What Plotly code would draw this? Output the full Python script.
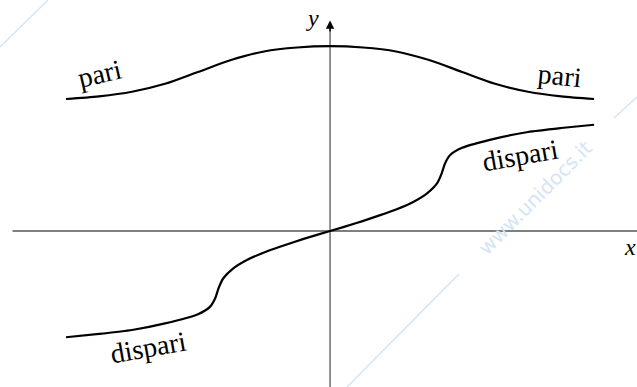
import plotly.graph_objects as go

### even function (pari)
x_pari = [-4.0, -3.5, -3.0, -2.5, -2.0, -1.5, -1.0, -0.5, 0.0,
          0.5, 1.0, 1.5, 2.0, 2.5, 3.0, 3.5, 4.0]
y_pari = [2.00, 2.04, 2.11, 2.23, 2.41, 2.59, 2.72, 2.78, 2.80,
          2.78, 2.72, 2.59, 2.41, 2.23, 2.11, 2.04, 2.00]

### odd function (dispari)
x_dispari = [-4.0, -3.5, -3.0, -2.5, -2.0, -1.82, -1.74, -1.69, -1.62, -1.47,
             -1.26, -1.01, -0.76, -0.40, 0.0,
             0.40, 0.76, 1.01, 1.26, 1.47, 1.62, 1.69, 1.74, 1.82, 2.0,
             2.5, 3.0, 3.5, 4.0]
y_dispari = [-1.61, -1.56, -1.50, -1.40, -1.26, -1.15, -1.02, -0.87, -0.72, -0.57,
             -0.44, -0.33, -0.24, -0.12, 0.0,
             0.12, 0.24, 0.33, 0.44, 0.57, 0.72, 0.87, 1.02, 1.15, 1.26,
             1.40, 1.50, 1.56, 1.61]

### labels: text, x, y, rotation
labels = ["pari", "pari", "dispari", "dispari"]
label_x = [-3.48, 3.48, 2.88, -2.76]
label_y = [2.38, 2.36, 1.15, -1.76]
label_rot = [-13, 6, -10, -10]

serif = "'Liberation Serif', 'Times New Roman', serif"

fig = go.Figure()
fig.add_scatter(x=x_pari, y=y_pari, mode="lines",
                line=dict(color="black", width=2.2, shape="spline", smoothing=0.8))
fig.add_scatter(x=x_dispari, y=y_dispari, mode="lines",
                line=dict(color="black", width=2.2, shape="spline", smoothing=0.6))

# axes drawn by hand, latex style
fig.add_shape(type="line", x0=-4.81, x1=4.7, y0=0, y1=0,
              line=dict(color="black", width=1.1), layer="below")
fig.add_shape(type="line", x0=0, x1=0, y0=-2.4, y1=3.1,
              line=dict(color="#6e6e6e", width=1.5), layer="below")
fig.add_annotation(x=0, y=3.19, ax=0, ay=3.0, xref="x", yref="y",
                   axref="x", ayref="y", text="", showarrow=True,
                   arrowhead=2, arrowsize=1.2, arrowwidth=1.4, arrowcolor="black")
fig.add_annotation(x=-0.26, y=3.23, text="<i>y</i>", showarrow=False,
                   font=dict(family=serif, size=24, color="black"))
fig.add_annotation(x=4.55, y=-0.24, text="<i>x</i>", showarrow=False,
                   font=dict(family=serif, size=24, color="black"))

for t, lx, ly, r in zip(labels, label_x, label_y, label_rot):
    fig.add_annotation(x=lx, y=ly, text=t, showarrow=False, textangle=r,
                       font=dict(family=serif, size=28, color="black"))

# faint watermark
wm = "#d4e5f5"
for x0, y0, x1, y1 in [(0, 47, 48, 0), (614, 118, 637, 97), (459, 274, 347, 387)]:
    fig.add_shape(type="line", xref="paper", yref="paper",
                  x0=x0 / 637, y0=1 - y0 / 387, x1=x1 / 637, y1=1 - y1 / 387,
                  line=dict(color=wm, width=1.5), layer="below")
fig.add_annotation(xref="paper", yref="paper", x=535 / 637, y=1 - 198 / 387,
                   xanchor="center", yanchor="middle",
                   text="www.unidocs.it", showarrow=False, textangle=-45,
                   font=dict(family="DejaVu Sans, sans-serif", size=20, color=wm))

fig.update_layout(width=637, height=387, margin=dict(l=0, r=0, t=0, b=0),
                  showlegend=False, plot_bgcolor="white", paper_bgcolor="white")
fig.update_xaxes(range=[-5.0, 4.65], visible=False)
fig.update_yaxes(range=[-2.364, 3.5], visible=False)

# drop the default page margin so the figure sits at the window corner
fig.write_html("out.html", config={"displayModeBar": False},
               post_script="document.body.style.margin='0';")
